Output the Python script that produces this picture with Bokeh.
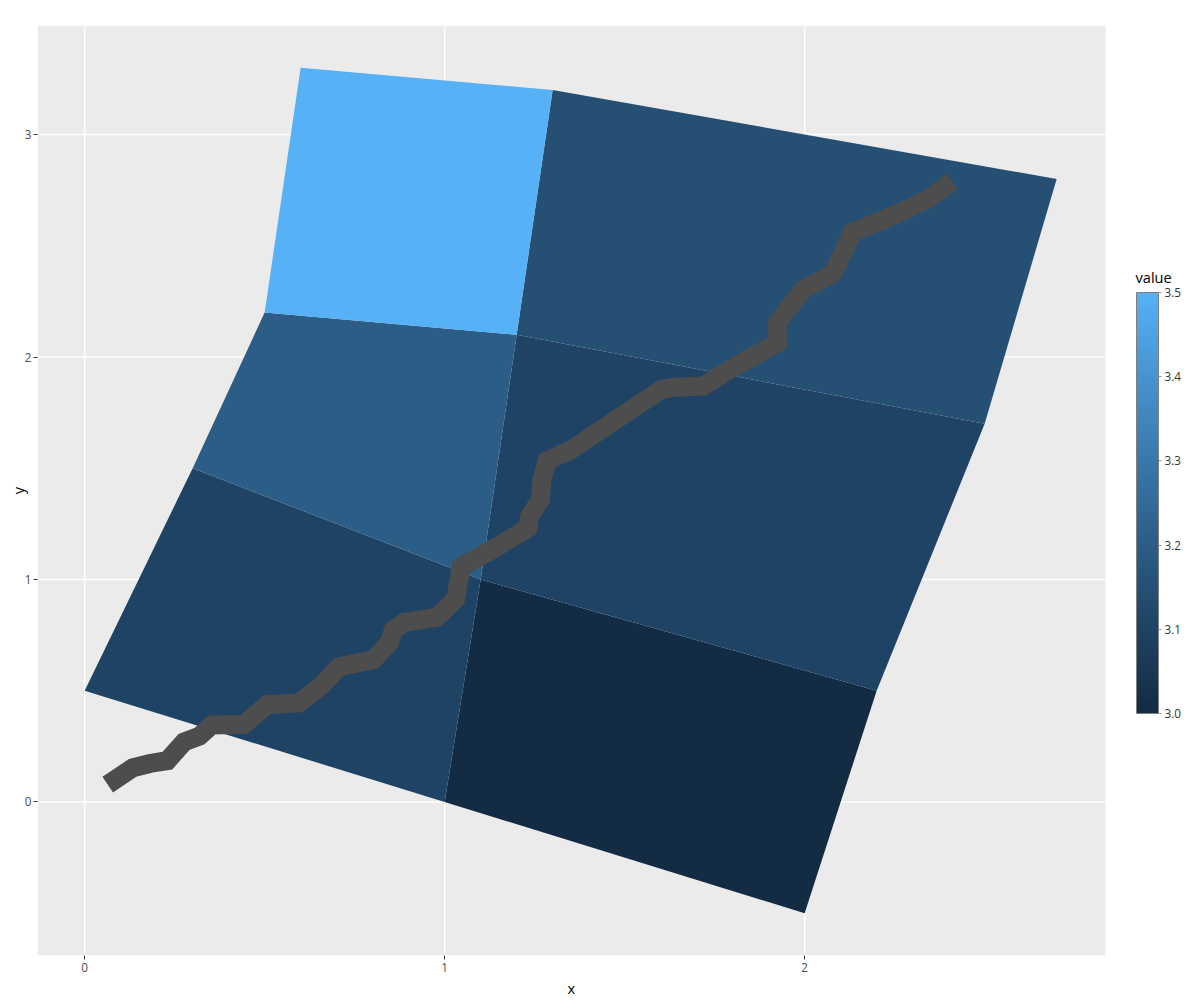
from bokeh.embed import file_html
from bokeh.models import ColorBar, ColumnDataSource, FixedTicker, Label, LinearColorMapper, PrintfTickFormatter, Range1d, Title
from bokeh.plotting import figure
from bokeh.resources import INLINE

# six cells, four corners each (corners listed id by id)
CELL_IDS = ["1.1", "2.1", "1.2", "2.2", "1.3", "2.3"]
CELL_VALUES = [3.0, 3.1, 3.1, 3.2, 3.15, 3.5]
CORNER_X = [2, 1, 1.1, 2.2, 1, 0, 0.3, 1.1, 2.2, 1.1, 1.2, 2.5,
            1.1, 0.3, 0.5, 1.2, 2.5, 1.2, 1.3, 2.7, 1.2, 0.5, 0.6, 1.3]
CORNER_Y = [-0.5, 0, 1, 0.5, 0, 0.5, 1.5, 1, 0.5, 1, 2.1, 1.7,
            1, 1.5, 2.2, 2.1, 1.7, 2.1, 3.2, 2.8, 2.1, 2.2, 3.3, 3.2]

# the stream path
STREAM_X = [0.064, 0.134, 0.181, 0.230, 0.276, 0.319, 0.353, 0.443, 0.508, 0.595,
            0.660, 0.706, 0.803, 0.848, 0.857, 0.887, 0.978, 1.030, 1.046, 1.139,
            1.231, 1.236, 1.266, 1.270, 1.285, 1.351, 1.601, 1.633, 1.719, 1.797,
            1.924, 1.925, 1.996, 2.079, 2.133, 2.219, 2.345, 2.410]
STREAM_Y = [0.078, 0.154, 0.173, 0.186, 0.270, 0.296, 0.346, 0.349, 0.438, 0.445,
            0.526, 0.607, 0.641, 0.720, 0.772, 0.807, 0.830, 0.911, 1.057, 1.140,
            1.231, 1.283, 1.360, 1.448, 1.534, 1.583, 1.853, 1.863, 1.870, 1.948,
            2.064, 2.156, 2.303, 2.376, 2.561, 2.615, 2.712, 2.789]

X_TICKS = [0, 1, 2]
Y_TICKS = [0, 1, 2, 3]
LEGEND_TICKS = [3.0, 3.1, 3.2, 3.3, 3.4, 3.5]

# grey panel limits
X_LIM = (-0.131, 2.836)
Y_LIM = (-0.69, 3.49)

FONT = "Open Sans"
PX_PER_X = 360  # frame pixels per x unit


def to_lab(hex_color):
    rgb = [int(hex_color[i:i + 2], 16) / 255 for i in (1, 3, 5)]
    lin = [c / 12.92 if c <= 0.04045 else ((c + 0.055) / 1.055) ** 2.4 for c in rgb]
    x = (0.4124 * lin[0] + 0.3576 * lin[1] + 0.1805 * lin[2]) / 0.95047
    y = 0.2126 * lin[0] + 0.7152 * lin[1] + 0.0722 * lin[2]
    z = (0.0193 * lin[0] + 0.1192 * lin[1] + 0.9505 * lin[2]) / 1.08883
    f = lambda t: t ** (1 / 3) if t > 0.008856 else 7.787 * t + 16 / 116
    fx, fy, fz = f(x), f(y), f(z)
    return 116 * fy - 16, 500 * (fx - fy), 200 * (fy - fz)


def from_lab(L, a, b):
    fy = (L + 16) / 116
    fx = fy + a / 500
    fz = fy - b / 200
    g = lambda t: t ** 3 if t ** 3 > 0.008856 else (t - 16 / 116) / 7.787
    x, y, z = g(fx) * 0.95047, g(fy), g(fz) * 1.08883
    lin = [3.2406 * x - 1.5372 * y - 0.4986 * z,
           -0.9689 * x + 1.8758 * y + 0.0415 * z,
           0.0557 * x - 0.2040 * y + 1.0570 * z]
    out = []
    for c in lin:
        c = max(0.0, c)
        c = 12.92 * c if c <= 0.0031308 else 1.055 * c ** (1 / 2.4) - 0.055
        out.append(min(255, max(0, round(c * 255))))
    return "#%02x%02x%02x" % tuple(out)


# ggplot's default continuous fill, low -> high, blended in Lab
lo, hi = to_lab("#132B43"), to_lab("#56B1F7")
palette = [from_lab(*[lo[k] + (hi[k] - lo[k]) * i / 255 for k in range(3)]) for i in range(256)]
mapper = LinearColorMapper(palette=palette, low=3.0, high=3.5)

# the frame runs on to the right edge so the legend can sit inside it;
# the grey panel itself is drawn as a quad over X_LIM x Y_LIM
frame_w = 1159
p = figure(
    frame_width=frame_w,
    frame_height=930,
    x_range=Range1d(X_LIM[0], X_LIM[0] + frame_w / PX_PER_X),
    y_range=Range1d(*Y_LIM),
    y_axis_label="y",
    output_backend="svg",
    toolbar_location=None,
    min_border_left=37,
    min_border_right=0,
    min_border_top=25,
    min_border_bottom=41,
    background_fill_color="white",
    border_fill_color="white",
    outline_line_color=None,
)
p.grid.grid_line_color = None

p.quad(left=X_LIM[0], right=X_LIM[1], bottom=Y_LIM[0], top=Y_LIM[1], fill_color="#EBEBEB", line_color=None)
p.segment(x0=X_TICKS, x1=X_TICKS, y0=[Y_LIM[0]] * len(X_TICKS), y1=[Y_LIM[1]] * len(X_TICKS),
          line_color="white", line_width=1.5)
p.segment(x0=[X_LIM[0]] * len(Y_TICKS), x1=[X_LIM[1]] * len(Y_TICKS), y0=Y_TICKS, y1=Y_TICKS,
          line_color="white", line_width=1.5)

cells = ColumnDataSource(data={
    "xs": [CORNER_X[i * 4:(i + 1) * 4] for i in range(len(CELL_IDS))],
    "ys": [CORNER_Y[i * 4:(i + 1) * 4] for i in range(len(CELL_IDS))],
    "id": CELL_IDS,
    "value": CELL_VALUES,
})
p.patches("xs", "ys", source=cells, fill_color={"field": "value", "transform": mapper}, line_color=None)

p.line(STREAM_X, STREAM_Y, line_color="#4D4D4D", line_width=18.9, line_join="miter", line_cap="butt")

p.xaxis.ticker = FixedTicker(ticks=X_TICKS)
p.yaxis.ticker = FixedTicker(ticks=Y_TICKS)
p.axis.axis_line_color = None
p.axis.minor_tick_line_color = None
p.axis.major_tick_line_color = "#333333"
p.axis.major_tick_in = 0
p.axis.major_tick_out = 4
p.axis.major_label_text_font = FONT
p.axis.major_label_text_font_size = "11.7px"
p.axis.major_label_text_color = "#4D4D4D"
p.axis.axis_label_text_font = FONT
p.axis.axis_label_text_font_size = "14.6px"
p.axis.axis_label_text_font_style = "normal"
p.axis.axis_label_text_color = "black"
p.xaxis.major_label_standoff = 3
p.yaxis.major_label_standoff = 2
p.yaxis.axis_label_standoff = -6

# x title centred under the grey panel, not under the wider frame
p.add_layout(Title(text="x", align="left", offset=530, standoff=2, text_font=FONT,
                   text_font_size="14.6px", text_font_style="normal", text_color="black"), "below")

color_bar = ColorBar(
    color_mapper=mapper,
    ticker=FixedTicker(ticks=LEGEND_TICKS),
    formatter=PrintfTickFormatter(format="%.1f"),
    width=22,
    height=421,
    location=(1099, 242),
    padding=0,
    margin=0,
    major_label_text_font=FONT,
    major_label_text_font_size="11.7px",
    major_label_text_color="#333333",
    label_standoff=3,
    major_tick_in=0,
    major_tick_out=3,
    major_tick_line_color="#999999",
    minor_tick_line_color=None,
    bar_line_color="#7F7F7F",
    border_line_color=None,
    background_fill_color=None,
)
p.add_layout(color_bar)
p.add_layout(Label(x=1098, y=679, x_units="screen", y_units="screen", text="value",
                   text_align="left", text_baseline="middle", text_font=FONT,
                   text_font_size="14.6px", text_color="black"))

open("out.html", "w").write(file_html(p, INLINE))
